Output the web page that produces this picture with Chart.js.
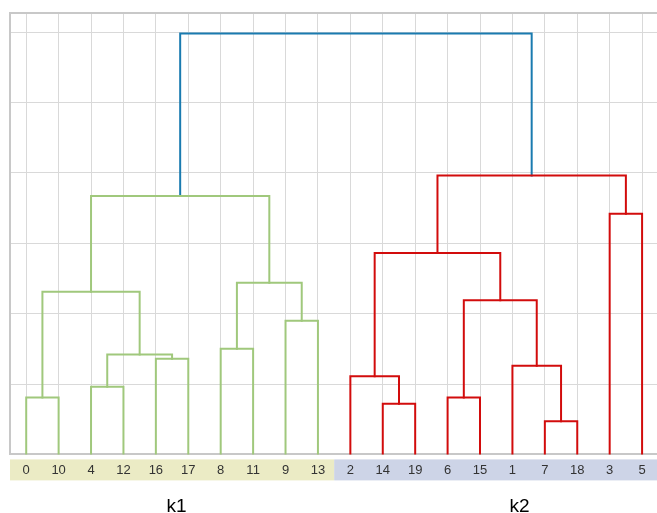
<!DOCTYPE html>
<html><head><meta charset="utf-8">
<script src="https://cdn.jsdelivr.net/npm/chart.js@4"></script>
<style>html,body{margin:0;padding:0;background:#fff}#wrap{width:657px;height:513px;position:relative}</style>
</head><body><div id="wrap"><canvas id="c"></canvas></div>
<script>
// Leaf order along the x axis (left to right)
const leafOrder = [0,10,4,12,16,17,8,11,9,13,2,14,19,6,15,1,7,18,3,5];
// Linkage: merge i creates cluster id 20+i from mergeLeft[i] and mergeRight[i] at mergeHeight[i]
const mergeLeft   = [0, 4, 16, 21, 20, 8, 9, 25, 24, 14, 2, 6, 7, 1, 31, 30, 3, 35, 28];
const mergeRight  = [10,12,17, 22, 23, 11,13,26, 27, 19, 29,15,18,32,33, 34, 5, 36, 37];
const mergeHeight = [0.81,0.96,1.36,1.42,2.31,1.50,1.90,2.44,3.67,0.72,1.11,0.81,0.47,1.26,2.19,2.86,3.42,3.96,5.98];
// Flat clusters
const clusterNames = ['k1','k2'];
const clusterRoots = [28, 37];
const clusterColors = ['#a0c87c','#d20c0c'];
const bandColors = ['#ebebc5','#cdd4e7'];
const aboveColor = '#1a7bb0';
const clusterLabelPos = [4.64, 15.22];
const yTicks = [0,1,2,3,4,5,6];

const nLeaves = leafOrder.length;
const nodeX = {}, nodeY = {}, nodeColor = {};
leafOrder.forEach((leaf, i) => { nodeX[leaf] = i; nodeY[leaf] = 0; });
mergeHeight.forEach((h, i) => {
  const id = nLeaves + i;
  nodeX[id] = (nodeX[mergeLeft[i]] + nodeX[mergeRight[i]]) / 2;
  nodeY[id] = h;
});
function mark(id, c, leaves) {
  if (id < nLeaves) { leaves.push(nodeX[id]); return; }
  const i = id - nLeaves;
  nodeColor[id] = c;
  mark(mergeLeft[i], c, leaves); mark(mergeRight[i], c, leaves);
}
const clusterRange = clusterRoots.map((r, k) => {
  const leaves = []; mark(r, clusterColors[k], leaves);
  return {min: Math.min(...leaves), max: Math.max(...leaves)};
});

const datasets = mergeHeight.map((h, i) => {
  const id = nLeaves + i, a = mergeLeft[i], b = mergeRight[i];
  return {
    data: [{x: nodeX[a], y: nodeY[a]}, {x: nodeX[a], y: h}, {x: nodeX[b], y: h}, {x: nodeX[b], y: nodeY[b]}],
    borderColor: nodeColor[id] || aboveColor,
    borderWidth: 2, pointRadius: 0, tension: 0, fill: false, borderCapStyle: 'square', borderJoinStyle: 'miter'
  };
});

const bandPlugin = {
  id: 'band',
  beforeDraw(chart) {
    const {ctx, chartArea, scales} = chart, x = scales.x;
    const top = chartArea.bottom + 5, h = 21;
    clusterRange.forEach((r, k) => {
      const l = k === 0 ? chartArea.left : x.getPixelForValue(r.min - 0.5);
      const rr = k === clusterRange.length - 1 ? chart.width : x.getPixelForValue(r.max + 0.5);
      ctx.fillStyle = bandColors[k];
      ctx.fillRect(l, top, rr - l, h);
    });
  },
  afterDraw(chart) {
    const {ctx, chartArea, scales} = chart, x = scales.x;
    ctx.save();
    ctx.font = '19px "Liberation Sans", Arial, sans-serif';
    ctx.fillStyle = '#000';
    ctx.textAlign = 'center'; ctx.textBaseline = 'middle';
    clusterNames.forEach((n, k) => ctx.fillText(n, x.getPixelForValue(clusterLabelPos[k]), chartArea.bottom + 52));
    ctx.restore();
  }
};

new Chart(document.getElementById('c'), {
  type: 'line',
  data: {datasets},
  plugins: [bandPlugin],
  options: {
    responsive: true, maintainAspectRatio: false, animation: false,
    layout: {padding: {left: 10, top: 13, right: 0, bottom: 27}},
    plugins: {legend: {display: false}, tooltip: {enabled: false}},
    scales: {
      x: {
        type: 'linear', position: 'bottom', min: -0.5, max: 19.46,
        afterBuildTicks: s => { s.ticks = leafOrder.map((_, i) => ({value: i})); },
        ticks: {callback: v => String(leafOrder[v]), autoSkip: false, maxRotation: 0, padding: 8, color: '#333',
                font: {family: '"Liberation Sans", Arial, sans-serif', size: 13}},
        grid: {color: '#d9d9d9', lineWidth: 1, drawTicks: false},
        border: {color: '#c8c8c8', width: 2}
      },
      x2: {
        type: 'linear', position: 'top', display: true,
        ticks: {display: false}, grid: {display: false, drawTicks: false},
        border: {color: '#c8c8c8', width: 2}
      },
      y: {
        type: 'linear', min: 0, max: 6.27,
        afterBuildTicks: s => { s.ticks = yTicks.map(v => ({value: v})); },
        ticks: {display: false},
        grid: {color: '#d9d9d9', lineWidth: 1, drawTicks: false},
        border: {color: '#c8c8c8', width: 2}
      }
    }
  }
});
</script></body></html>
